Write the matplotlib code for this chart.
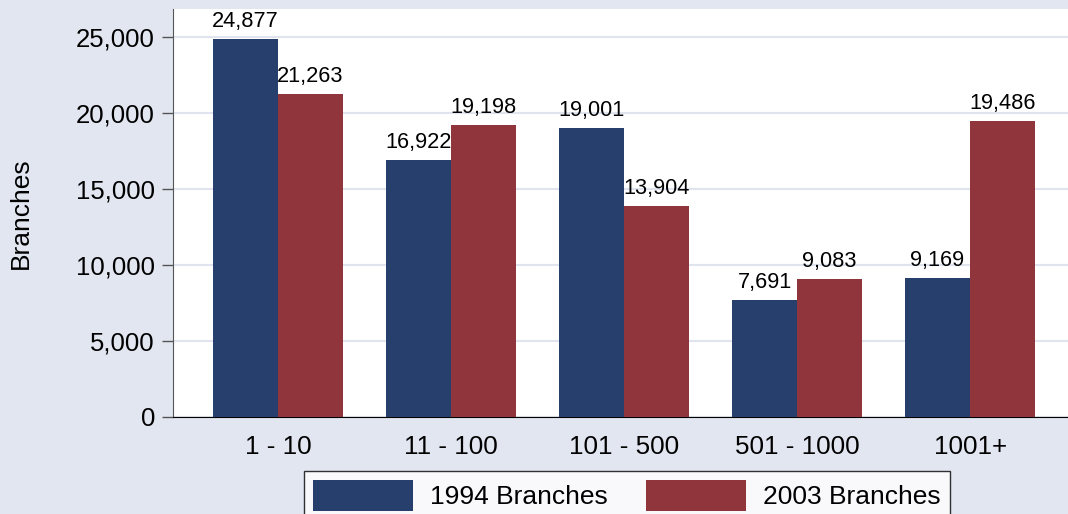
import matplotlib
matplotlib.use("Agg")
import matplotlib.pyplot as plt
import matplotlib.transforms as mtransforms
import numpy as np

# data
categories = ["1 - 10", "11 - 100", "101 - 500", "501 - 1000", "1001+"]
branches_1994 = [24877, 16922, 19001, 7691, 9169]
branches_2003 = [21263, 19198, 13904, 9083, 19486]
series_names = ["1994 Branches", "2003 Branches"]

plt.rcParams['font.family'] = ['Liberation Sans', 'DejaVu Sans']

bg = '#e2e6f0'
blue = '#273f6d'
red = '#8f353b'

fig = plt.figure(figsize=(10.68, 5.14), dpi=100, facecolor=bg)
ax = fig.add_axes([173 / 1068, 97 / 514, 1 - 173 / 1068, 408 / 514])
ax.set_facecolor('white')

x = np.arange(len(categories))
w = 0.376
b1 = ax.bar(x - w / 2, branches_1994, w, color=blue, label=series_names[0], zorder=3)
b2 = ax.bar(x + w / 2, branches_2003, w, color=red, label=series_names[1], zorder=3)

# value labels above the bars
for bars in (b1, b2):
    for rect in bars:
        h = rect.get_height()
        ax.annotate(f"{h:,.0f}", (rect.get_x() + rect.get_width() / 2, h),
                    xytext=(0, 8.6), textcoords='offset points',
                    ha='center', va='baseline', fontsize=15.7)

ax.set_xlim(-0.607, 4.566)
ax.set_ylim(0, 26840)
yt = [0, 5000, 10000, 15000, 20000, 25000]
ax.set_yticks(yt)
ax.set_yticklabels([f"{v:,}" for v in yt], fontsize=18.5)
ax.set_xticks(x)
ax.set_xticklabels(categories, fontsize=18.7)
ax.tick_params(axis='x', length=0, pad=13)
ax.tick_params(axis='y', length=8, width=1, color='#555555', pad=5)
ax.yaxis.grid(True, color='#dfe4ee', linewidth=1.5, zorder=0)
ax.set_axisbelow(True)

for s in ['top', 'right']:
    ax.spines[s].set_visible(False)
ax.spines['left'].set_color('#555555')
ax.spines['bottom'].set_color('black')

# y label placed near the left figure edge
ax.set_ylabel("Branches", fontsize=19, va='center')
ax.yaxis.set_label_coords(
    21 / 1068, 0.5,
    transform=mtransforms.blended_transform_factory(fig.transFigure, ax.transAxes))

leg = fig.legend(loc='upper center', bbox_to_anchor=(0.587, 0.0837), ncol=2,
                 fontsize=19, frameon=True, fancybox=False, edgecolor='black',
                 handlelength=3.8, handleheight=1.4, columnspacing=1.44,
                 handletextpad=0.64, borderpad=0.35, borderaxespad=0)
leg.get_frame().set_linewidth(1)

fig.savefig("out.png", dpi=100, facecolor=bg)
